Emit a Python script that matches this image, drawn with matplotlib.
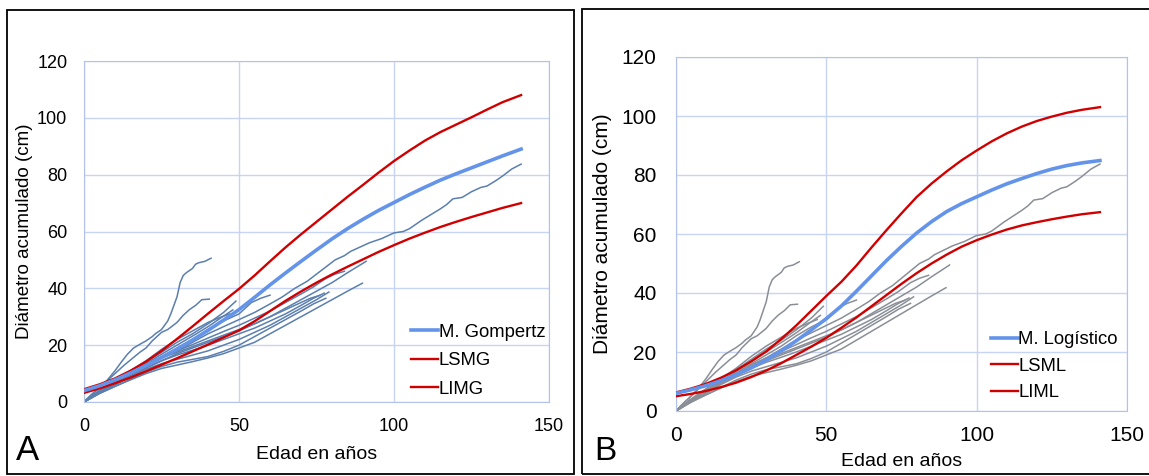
import numpy as np
import matplotlib
matplotlib.use("Agg")
import matplotlib.pyplot as plt
from matplotlib.patches import Rectangle

plt.rcParams['font.family'] = ['Liberation Sans', 'DejaVu Sans']

# edades comunes de los modelos (cada 5 años)
edad_mod = [0, 5, 10, 15, 20, 25, 30, 35, 40, 45, 50, 55, 60, 65, 70,
            75, 80, 85, 90, 95, 100, 105, 110, 115, 120, 125, 130, 135, 141]

# panel A: Gompertz y limites
gompertz = [4, 5.7, 7.8, 10.2, 12.8, 15.6, 18.6, 21.8, 25.2, 28.8, 32.5, 36.8, 41.2, 45.4, 49.5,
            53.5, 57.4, 61, 64.3, 67.4, 70.2, 73, 75.6, 78.1, 80.3, 82.4, 84.5, 86.6, 89]
lsmg = [4.5, 6.2, 8.3, 11, 14.2, 18, 22.2, 26.6, 31.1, 35.5, 39.8, 44.5, 49.5, 54.4, 59,
        63.4, 67.8, 72.2, 76.4, 80.7, 84.8, 88.5, 92, 95, 97.6, 100.2, 102.9, 105.5, 108]
limg = [3.2, 4.8, 6.6, 8.6, 10.8, 13.1, 15.4, 17.8, 20.2, 22.7, 25.2, 28.4, 32, 35.6, 38.9,
        42, 44.9, 47.6, 50.2, 52.8, 55.2, 57.5, 59.6, 61.6, 63.4, 65.1, 66.7, 68.3, 70]

# panel B: logistico y limites
logistico = [6, 7.2, 8.6, 10.3, 12.3, 14.6, 17.3, 20.4, 23.8, 27.5, 31.3, 35.6, 40.6, 45.8, 51,
             55.8, 60.3, 64.2, 67.6, 70.3, 72.6, 74.9, 77, 78.8, 80.5, 82, 83.2, 84.1, 84.9]
lsml = [6.3, 7.6, 9.2, 11.3, 13.8, 16.8, 20.2, 24.4, 29, 34, 39, 43.8, 49.3, 55.4, 61.3,
        67, 72.5, 77.1, 81.2, 85, 88.3, 91.4, 94.1, 96.4, 98.3, 99.8, 101.1, 102.1, 103]
liml = [5, 5.8, 6.8, 8.1, 9.6, 11.5, 13.7, 16.2, 19, 21.8, 24.8, 28.2, 31.7, 35.5, 39.3,
        43.1, 46.7, 50, 53, 55.7, 57.9, 59.8, 61.5, 62.9, 64, 65, 65.9, 66.7, 67.4]

# arboles individuales (edad, diametro acumulado)
arbol_1_x = [0, 5, 10, 15, 20, 25, 30, 35, 40, 45, 50, 55, 60, 64, 68, 72, 75, 78, 81, 84, 86, 89,
             92, 96, 100, 103, 105, 107, 109, 112, 115, 117, 119, 122, 125, 128, 130, 133, 135, 138, 141]
arbol_1_y = [0, 3.5, 6.5, 9.8, 12.5, 15.5, 18, 21, 24, 26.5, 29, 31.5, 34.5, 37, 40, 42.5, 45, 47.5, 50,
             51.5, 53, 54.5, 56, 57.5, 59.5, 60, 61, 62.5, 64, 66, 68, 69.5, 71.5, 72, 74, 75.5, 76, 78,
             79.5, 82, 83.7]
arbol_2_x = [0, 2, 4, 6, 7.5, 10, 12, 14, 16, 18, 20, 22, 23, 25, 26, 27, 28, 29, 30, 31, 32, 33, 35,
             36, 37, 39, 41]
arbol_2_y = [0, 2.2, 4, 6.2, 7.7, 11, 14, 16.8, 19, 20.3, 21.5, 23, 24, 25.5, 27, 28.5, 31, 34, 37,
             42, 44.5, 45.5, 47, 48.5, 49, 49.5, 50.6]
arbol_3_x = [0, 3, 5, 8, 10, 13, 15, 18, 20, 22, 25, 27, 30, 32, 34, 36, 38, 40.4]
arbol_3_y = [0, 3.2, 5, 8, 10, 13, 14.8, 17.5, 19, 21.5, 24.5, 25.5, 28, 30.5, 32.5, 34, 36, 36.2]
arbol_4_x = [0, 5, 10, 15, 20, 25, 30, 35, 40, 45, 50, 55, 60, 65, 70, 75, 80, 85, 89.8]
arbol_4_y = [0, 3, 5.5, 7.8, 10, 11.8, 13, 14.2, 15.5, 17, 19, 21, 24, 27, 30, 33, 36, 39, 41.8]
arbol_5_x = [0, 5, 10, 15, 20, 25, 30, 35, 40, 45, 50, 54, 57, 60]
arbol_5_y = [0, 3.8, 7, 10, 13, 16, 19, 22, 25.5, 28.5, 31, 35, 36.5, 37.6]
arbol_6_x = [0, 5, 10, 15, 20, 25, 30, 35, 40, 45, 50, 55, 60, 65, 70, 75, 80, 85, 88, 91]
arbol_6_y = [0, 3.5, 6.5, 9.5, 12, 14.5, 17, 19, 21, 23, 25, 27.5, 30, 33, 36, 39, 42, 45.5, 47.5, 49.5]
arbol_7_x = [0, 5, 10, 15, 20, 25, 30, 35, 40, 45, 50, 55, 60, 65, 70, 74, 78, 81, 84]
arbol_7_y = [0, 3.8, 7, 10, 13, 15.5, 18, 20.2, 22.5, 24.8, 27, 29.5, 32, 35, 38, 40.5, 43.5, 45, 46]
arbol_8_x = [0, 5, 10, 15, 20, 25, 30, 35, 40, 45, 50, 55, 60, 65, 70, 75, 79]
arbol_8_y = [0, 3.2, 6, 9, 11.5, 13.5, 15, 16.5, 18, 20, 22, 24.5, 27, 30, 33, 36, 38.7]
arbol_9_x = [0, 5, 10, 15, 20, 25, 30, 35, 40, 45, 50, 55, 60, 65, 70, 74, 77.5]
arbol_9_y = [0, 3.5, 6.5, 9.5, 12, 14.5, 16.5, 18.2, 20, 22, 24, 26, 28.5, 31, 34, 36.5, 38.3]
arbol_10_x = [0, 5, 10, 15, 20, 25, 30, 35, 40, 45, 50, 55, 60, 65, 70, 73, 76]
arbol_10_y = [0, 3.8, 7, 10, 13, 15.5, 17.5, 19.5, 21.5, 23.5, 25.5, 27.5, 30, 32.5, 35, 36.5, 37.5]
arbol_11_x = [0, 5, 10, 15, 20, 25, 30, 35, 40, 45, 50, 55, 60, 65, 70, 74, 78]
arbol_11_y = [0, 3, 5.5, 8, 10.5, 12.5, 14, 15, 16, 17.8, 20, 23, 26, 29, 32, 34.5, 36.5]
arbol_12_x = [0, 5, 10, 15, 20, 25, 30, 35, 40, 45, 49]
arbol_12_y = [0, 4, 7.5, 11, 14, 17.5, 21, 24, 27.5, 31.5, 35.5]
arbol_13_x = [0, 5, 10, 15, 20, 25, 30, 35, 40, 44, 48]
arbol_13_y = [0, 3.8, 7, 10.2, 13.5, 16.8, 20, 23.2, 26.5, 29.5, 32.4]
arbol_14_x = [0, 5, 10, 15, 20, 25, 30, 35, 40, 44, 47]
arbol_14_y = [0, 4, 7.5, 11, 14.5, 18.5, 22, 25, 28, 29.8, 31]

arboles = [(arbol_1_x, arbol_1_y), (arbol_2_x, arbol_2_y), (arbol_3_x, arbol_3_y),
           (arbol_4_x, arbol_4_y), (arbol_5_x, arbol_5_y), (arbol_6_x, arbol_6_y),
           (arbol_7_x, arbol_7_y), (arbol_8_x, arbol_8_y), (arbol_9_x, arbol_9_y),
           (arbol_10_x, arbol_10_y), (arbol_11_x, arbol_11_y), (arbol_12_x, arbol_12_y),
           (arbol_13_x, arbol_13_y), (arbol_14_x, arbol_14_y)]

W, H = 1149, 476
fig = plt.figure(figsize=(W / 100, H / 100), dpi=100)

# marcos de los paneles
fig.patches.append(Rectangle((7 / W, 2 / H), 567 / W, 464 / H, transform=fig.transFigure,
                             fill=False, edgecolor='black', linewidth=1.3))
fig.patches.append(Rectangle((582 / W, 2 / H), 0.6, 465 / H, transform=fig.transFigure,
                             fill=False, edgecolor='black', linewidth=1.3))

axA = fig.add_axes([84 / W, 1 - 402 / H, 465 / W, 341 / H])
axB = fig.add_axes([676 / W, 1 - 411 / H, 451 / W, 354 / H])

grid_col = '#c8d4f4'
# eje, color arboles, modelo, sup, inf, nombres, tam ticks, pad y, pad x,
# tam etiqueta y, tam etiqueta x, anclaje leyenda, espaciado leyenda
paneles = [
    (axA, '#5b7fae', gompertz, lsmg, limg, ['M. Gompertz', 'LSMG', 'LIMG'], 13, 12, 11.5, 13.5, 14,
     (0.992, 0.012), 0.63),
    (axB, '#8a8f97', logistico, lsml, liml, ['M. Logístico', 'LSML', 'LIML'], 15, 14, 10.5, 15, 14,
     (0.98, 0.028), 0.51),
]

for ax, col_arbol, mod, sup, inf, nombres, tsize, ypad, xpad, ylsize, xlsize, anchor, lsp in paneles:
    for ex, ey in arboles:
        ax.plot(ex, ey, color=col_arbol, linewidth=1.1, zorder=2)
    l1, = ax.plot(edad_mod, mod, color='#6394ea', linewidth=2.6, zorder=4)
    l2, = ax.plot(edad_mod, sup, color='#d00000', linewidth=1.7, zorder=3)
    l3, = ax.plot(edad_mod, inf, color='#d00000', linewidth=1.7, zorder=3)

    ax.set_xlim(0, 150)
    ax.set_ylim(0, 120)
    ax.set_xticks([0, 50, 100, 150])
    ax.set_yticks(range(0, 121, 20))
    ax.grid(True, color=grid_col, linewidth=1)
    ax.set_axisbelow(True)
    for s in ax.spines.values():
        s.set_color('#b3c2ea')
    ax.tick_params(axis='y', length=0, labelsize=tsize, pad=ypad)
    ax.tick_params(axis='x', length=0, labelsize=tsize, pad=xpad)
    ax.set_ylabel('Diámetro acumulado (cm)', fontsize=ylsize, va='center')
    ax.set_xlabel('Edad en años', fontsize=xlsize, va='center')

    leg = ax.legend([l1, l2, l3], nombres, loc='lower right', bbox_to_anchor=anchor,
                    frameon=False, fontsize=13.3, handlelength=1.45, handletextpad=0.05,
                    labelspacing=lsp, borderaxespad=0.0, borderpad=0.0)
    leg.legend_handles[0].set_linewidth(2.6)

axA.yaxis.set_label_coords(-0.129, 0.5)
axB.yaxis.set_label_coords(-0.164, 0.5)
axA.xaxis.set_label_coords(0.5, -0.155)
axB.xaxis.set_label_coords(0.5, -0.144)

fig.text(28 / W, 1 - 451 / H, 'A', fontsize=25, ha='center', va='center')
fig.text(605 / W, 1 - 451 / H, 'B', fontsize=24, ha='center', va='center')

fig.savefig('out.png', dpi=100)
